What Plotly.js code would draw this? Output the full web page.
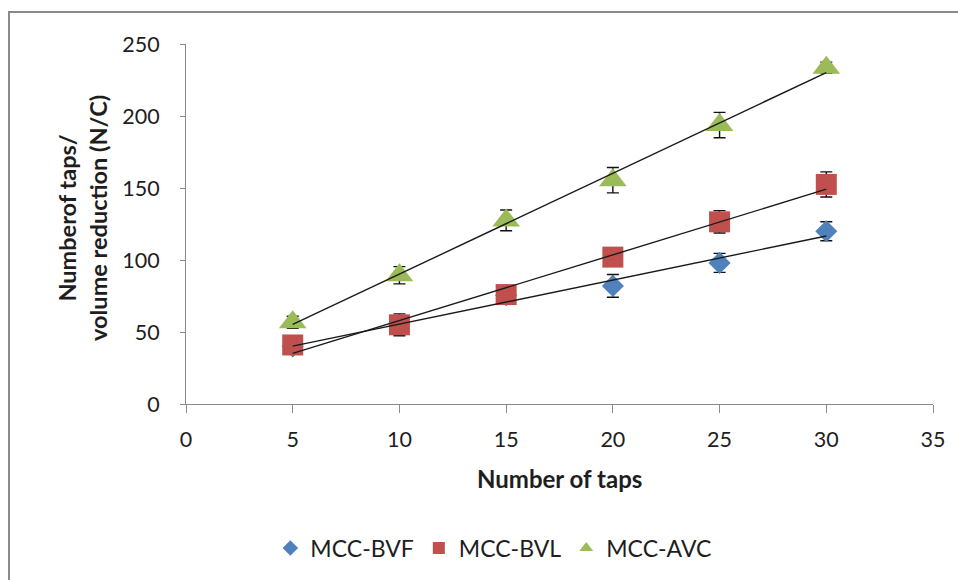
<!DOCTYPE html>
<html>
<head>
<meta charset="utf-8">
<script src="https://cdn.plot.ly/plotly-3.0.1.min.js"></script>
<style>
  html, body { margin: 0; padding: 0; background: #fff; }
  #wrap { position: relative; width: 958px; height: 580px; overflow: hidden; }
  #chart { position: absolute; left: 0; top: 0; width: 958px; height: 580px; }
  #frame {
    position: absolute; left: 8px; top: 11px; width: 1200px; height: 1000px;
    border-left: 2px solid #8a8a8a; border-top: 2px solid #8a8a8a;
    pointer-events: none;
  }
</style>
</head>
<body>
<div id="wrap">
  <div id="chart"></div>
  <div id="frame"></div>
</div>
<script>
// Tapping data: N/C against number of taps for three powder grades
const taps = [5, 10, 15, 20, 25, 30];

const bvfName = 'MCC-BVF';
const bvf    = [40, 55, 75.5, 82, 98, 120];
const bvfErr = [3, 3, 3, 7.9, 6.6, 6.6];

const bvlName = 'MCC-BVL';
const bvl    = [41, 55, 76, 102, 126.5, 152.5];
const bvlErr = [2, 7.6, 2, 2, 7.8, 8.7];

const avcName = 'MCC-AVC';
const avc    = [56.7, 89.4, 127.5, 155.4, 193.7, 233.5];
const avcErr = [4.2, 6, 7.2, 8.8, 8.8, 3.9];

const xTicks = [0, 5, 10, 15, 20, 25, 30, 35];
const yTicks = [0, 50, 100, 150, 200, 250];

const FONT = 'Lato, "Open Sans", sans-serif';
const TXT = '#1e1e1e';

// least-squares line through the points, drawn between the first and last x
function linearFit(xs, ys) {
  const n = xs.length;
  const mx = xs.reduce((a, b) => a + b, 0) / n;
  const my = ys.reduce((a, b) => a + b, 0) / n;
  let sxy = 0, sxx = 0;
  for (let i = 0; i < n; i++) {
    sxy += (xs[i] - mx) * (ys[i] - my);
    sxx += (xs[i] - mx) * (xs[i] - mx);
  }
  const slope = sxy / sxx;
  const icpt = my - slope * mx;
  const x0 = Math.min(...xs), x1 = Math.max(...xs);
  return { x: [x0, x1], y: [icpt + slope * x0, icpt + slope * x1] };
}

function pointTrace(name, ys, errs, color, symbol, size) {
  return {
    type: 'scatter', mode: 'markers', name: name,
    x: taps, y: ys,
    marker: { color: color, symbol: symbol, size: size, line: { width: 0 } },
    error_y: { type: 'data', array: errs, visible: true, color: '#111', thickness: 1.4, width: 6 },
    cliponaxis: false
  };
}

function fitTrace(ys) {
  const f = linearFit(taps, ys);
  return {
    type: 'scatter', mode: 'lines', x: f.x, y: f.y,
    line: { color: '#1a1a1a', width: 1.4 },
    showlegend: false, hoverinfo: 'skip'
  };
}

const data = [
  pointTrace(bvfName, bvf, bvfErr, '#4F81BD', 'diamond', 17),
  pointTrace(bvlName, bvl, bvlErr, '#C0504D', 'square', 21),
  pointTrace(avcName, avc, avcErr, '#9BBB59', 'triangle-up', 24),
  fitTrace(bvf),
  fitTrace(bvl),
  fitTrace(avc)
];

const axisCommon = {
  showgrid: false, zeroline: false,
  showline: true, linecolor: '#8a8a8a', linewidth: 1,
  ticks: 'outside', tickcolor: '#8a8a8a', tickwidth: 1,
  tickfont: { family: FONT, size: 21.5, color: TXT },
  fixedrange: true
};

const layout = {
  width: 958, height: 580,
  margin: { l: 186, r: 25, t: 44, b: 176, autoexpand: false },
  paper_bgcolor: 'rgba(0,0,0,0)',
  plot_bgcolor: 'rgba(0,0,0,0)',
  font: { family: FONT, color: TXT },
  xaxis: Object.assign({}, axisCommon, {
    range: [0, 35], tickvals: xTicks, ticktext: xTicks.map(String),
    ticklen: 8, ticklabelstandoff: 8
  }),
  yaxis: Object.assign({}, axisCommon, {
    range: [0, 250], tickvals: yTicks, ticktext: yTicks.map(String),
    ticklen: 5, ticklabelstandoff: 16
  }),
  showlegend: true,
  legend: {
    orientation: 'h', xref: 'container', yref: 'container',
    x: 0.515, xanchor: 'center', y: 0.055, yanchor: 'middle',
    font: { family: FONT, size: 23, color: TXT },
    bgcolor: 'rgba(0,0,0,0)', itemsizing: 'constant'
  },
  annotations: [
    {
      text: '<b>Number of taps</b>', xref: 'paper', yref: 'paper',
      x: 0.5, y: 0, xanchor: 'center', yanchor: 'middle', yshift: -74,
      showarrow: false, font: { family: FONT, size: 24, color: TXT }
    },
    {
      text: '<b>Numberof taps/<br>volume reduction (N/C)</b>', xref: 'paper', yref: 'paper',
      x: 0, y: 0.5, xanchor: 'center', yanchor: 'middle', xshift: -104, yshift: 6,
      textangle: -90, showarrow: false,
      font: { family: FONT, size: 23.5, color: TXT }
    }
  ]
};

Plotly.newPlot('chart', data, layout, { staticPlot: true, displayModeBar: false });
</script>
</body>
</html>
